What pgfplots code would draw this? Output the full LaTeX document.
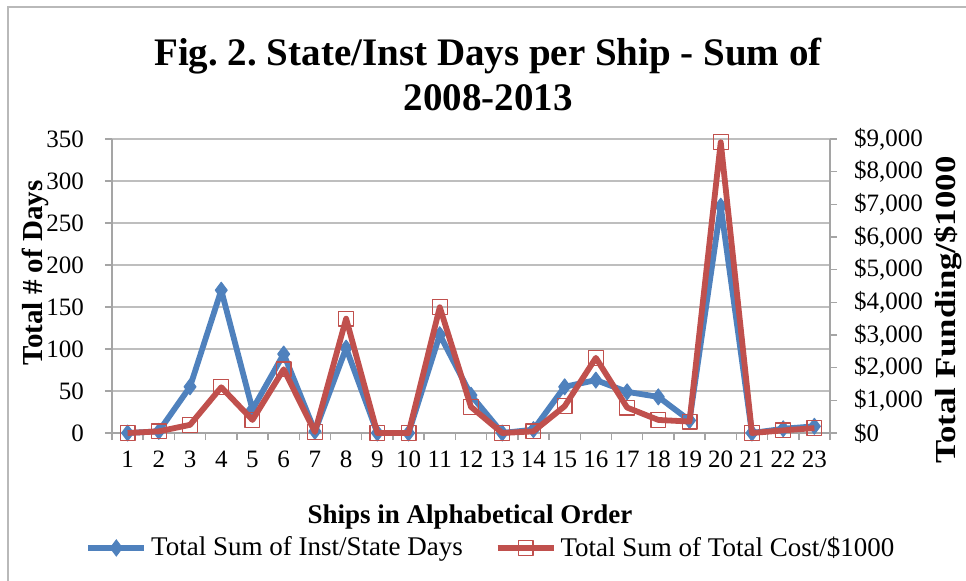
\documentclass[border=0pt]{standalone}
\usepackage{graphicx}
\usepackage{pgfplots}
\usepackage{pgfplotstable}
\pgfplotsset{compat=1.18}
\usepackage{fontspec}
\setmainfont{Liberation Serif}
\frenchspacing
\definecolor{sblue}{RGB}{79,129,189}
\definecolor{sred}{RGB}{192,80,77}
\definecolor{gridgray}{RGB}{190,190,190}
\definecolor{axgray}{RGB}{165,165,165}
\definecolor{bordergray}{RGB}{185,185,185}

\pgfplotstableread{
x days cost
1 0 0
2 2 50
3 55 250
4 170 1400
5 28 400
6 94 1950
7 2 30
8 101 3500
9 0 0
10 0 0
11 117 3850
12 45 800
13 0 0
14 4 50
15 55 820
16 63 2300
17 49 780
18 43 400
19 15 350
20 270 8900
21 0 0
22 5 80
23 8 150
}\datatable

\begin{document}
\begin{tikzpicture}
\begin{axis}[
  at={(0pt,0pt)}, anchor=south west,
  scale only axis, width=359pt, height=147pt,
  xmin=0.5, xmax=23.5, ymin=0, ymax=350,
  clip=false,
  axis x line*=bottom, axis y line*=left,
  axis line style={axgray, line width=0.75pt, -},
  xtick={1,...,23},
  minor xtick={0.5,1.5,...,23.5},
  every major x tick/.append style={draw=none},
  every minor x tick/.append style={axgray, line width=0.75pt},
  minor tick length=3.5pt,
  major tick length=3.5pt,
  tick align=outside,
  ytick={0,50,...,350},
  every major y tick/.append style={axgray, line width=0.75pt},
  ymajorgrids, grid style={gridgray, line width=0.75pt},
  /pgf/number format/assume math mode=true,
  tick label style={font=\fontsize{12.5}{14}\selectfont, text=black},
  xticklabel style={yshift=-2pt},
  yticklabel style={xshift=-7pt},
  title={Fig. 2. State/Inst Days per Ship - Sum of\\2008-2013},
  title style={align=center, font=\bfseries\fontsize{19.5}{22.5}\selectfont, inner sep=0pt,
    at={(rel axis cs:0.5237,1.305)}, anchor=north},
  ylabel={Total \# of Days},
  ylabel style={at={(rel axis cs:-0.1072,0.544)}, anchor=center, font=\bfseries\fontsize{14.5}{16}\selectfont},
  xlabel={Ships in Alphabetical Order},
  xlabel style={at={(rel axis cs:0.4986,-0.2857)}, anchor=center, font=\bfseries\fontsize{13.5}{15}\selectfont},
]
\addplot[sblue, line width=2.9pt, line join=round, mark=diamond*, mark size=4pt, mark options={solid, fill=sblue, line width=0.5pt}]
  table[x=x, y=days]{\datatable};
\end{axis}
\begin{axis}[
  at={(0pt,0pt)}, anchor=south west,
  scale only axis, width=359pt, height=147pt,
  xmin=0.5, xmax=23.5, ymin=0, ymax=9000,
  clip=false,
  axis x line=none, axis y line*=right,
  axis line style={axgray, line width=0.75pt, -},
  ytick={0,1000,...,9000},
  major tick length=3.5pt,
  tick align=outside,
  every major y tick/.append style={axgray, line width=0.75pt},
  /pgf/number format/assume math mode=true,
  /pgf/number format/1000 sep={,},
  yticklabel={\$\pgfmathprintnumber[fixed,precision=0]{\tick}},
  scaled y ticks=false,
  tick label style={font=\fontsize{12.5}{14}\selectfont, text=black},
  yticklabel style={xshift=5pt},
  ylabel={\scalebox{1.2}[1]{Total Funding/\$1000}},
  ylabel style={at={(rel axis cs:1.1644,0.418)}, anchor=center, font=\bfseries\fontsize{14.5}{16}\selectfont},
  legend style={at={(rel axis cs:-0.0376,-0.391)}, anchor=west, draw=none, fill=none,
    inner sep=0pt, font=\fontsize{13.5}{15}\selectfont,
    nodes={inner xsep=2pt},
    /tikz/every even column/.append style={column sep=14pt}},
  legend columns=2,
  legend cell align=left,
  legend image code/.code={\draw[mark repeat=2,mark phase=2,#1] plot coordinates {(0pt,0pt)(14pt,0pt)(28pt,0pt)};},
]
\addlegendimage{sblue, line width=2.9pt, mark=diamond*, mark size=4pt, mark options={solid, fill=sblue, line width=0.5pt}}
\addlegendentry{Total Sum of Inst/State Days}
\addplot[sred, line width=2.9pt, line join=round, mark=square, mark size=3.7pt, mark options={solid, fill=none, line width=0.6pt}]
  table[x=x, y=cost]{\datatable};
\addlegendentry{Total Sum of Total Cost/\$1000}
\end{axis}
\draw[bordergray, line width=0.75pt] (-52pt,-80pt) -- (-52pt,213pt) -- (440pt,213pt);
\pgfresetboundingbox
\useasboundingbox (-56pt,-73.5pt) rectangle (427pt,216.5pt);
\end{tikzpicture}
\end{document}
